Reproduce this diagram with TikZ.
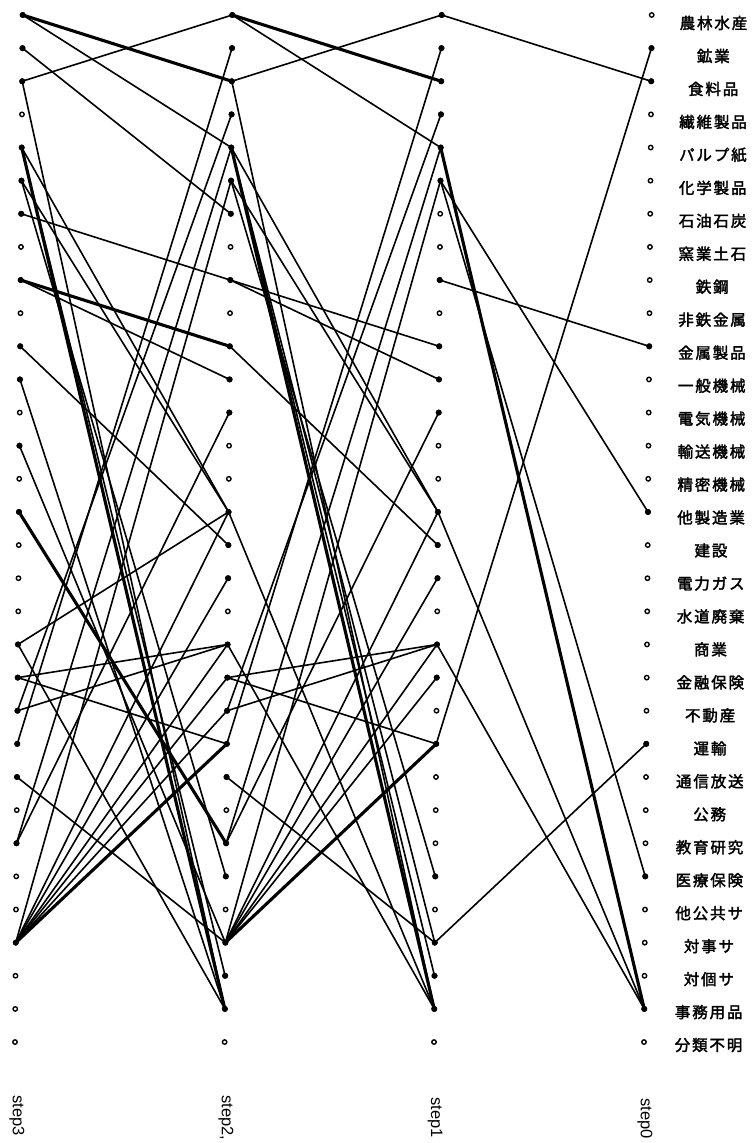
\documentclass[tikz,border=0pt]{standalone}
\usepackage{fontspec}
\newfontfamily\jp{Noto Sans CJK JP}[FakeBold=2.2,LetterSpace=12]
\newfontfamily\lab{Liberation Sans}
\tikzset{
  edge/.style={line width=1.6pt,line cap=round},
  thickedge/.style={line width=3.1pt,line cap=round},
  opendot/.style={draw,line width=1.4pt,fill=white},
  lbl/.style={font=\jp\fontsize{15.5}{16}\selectfont,inner sep=0pt},
  steplbl/.style={font=\lab\fontsize{16.5}{17}\selectfont,inner sep=0pt,anchor=west,rotate=-90}
}
\begin{document}
\begin{tikzpicture}[x=1pt,y=-1pt]
\useasboundingbox (0,0) rectangle (754,1143);
\fill[white] (0,0) rectangle (754,1143);
% row coordinates of the four columns
\foreach \c/\xx in {3/22.7,2/232.3,1/441.7,0/651.7}{
  \foreach \i in {0,...,31}{
    \coordinate (n\c-\i) at ({\xx-0.248*\i},{15+33.13*\i});
  }
}
% step3 -> step2
\foreach \a/\b in {0/4,1/6,2/0,2/30,4/29,4/15,5/15,5/26,6/8,8/11,10/16,11/30,13/28,19/15,19/30,20/19,20/22,21/3,21/19,22/1,23/28,25/4,25/12,28/5,28/15,28/17,28/19,28/20,28/21}
  \draw[edge] (n3-\a) -- (n2-\b);
\foreach \a/\b in {0/2,4/30,8/10,15/25,28/22}
  \draw[thickedge] (n3-\a) -- (n2-\b);
% step2 -> step1
\foreach \a/\b in {0/4,2/0,2/30,4/29,4/28,4/15,5/15,5/26,8/10,8/11,10/16,15/30,19/30,20/19,20/22,21/3,21/19,22/1,23/28,25/4,25/12,28/5,28/15,28/17,28/19,28/20}
  \draw[edge] (n2-\a) -- (n1-\b);
\foreach \a/\b in {0/2,4/30,28/22}
  \draw[thickedge] (n2-\a) -- (n1-\b);
% step1 -> step0
\foreach \a/\b in {0/2,22/1,5/15,5/26,8/10,28/22,15/30,19/30}
  \draw[edge] (n1-\a) -- (n0-\b);
\foreach \a/\b in {4/30}
  \draw[thickedge] (n1-\a) -- (n0-\b);
% dots
\foreach \c in {0,...,3}{
  \foreach \i in {0,...,31}{
    \draw[opendot] (n\c-\i) circle (2.2);
  }
}
\foreach \i in {0,1,2,4,5,6,8,10,11,13,15,19,20,21,22,23,25,28}
  \fill (n3-\i) circle (3);
\foreach \i in {0,1,2,3,4,5,6,8,10,11,12,15,16,17,19,20,21,22,23,25,26,28,29,30}
  \fill (n2-\i) circle (3);
\foreach \i in {0,1,2,3,4,5,8,10,11,12,15,16,17,19,20,22,26,28,29,30}
  \fill (n1-\i) circle (3);
\foreach \i in {1,2,10,15,22,26,30}
  \fill (n0-\i) circle (3);
% labels
\foreach \i/\t in {0/農林水産,1/鉱業,2/食料品,3/繊維製品,4/パルプ紙,5/化学製品,6/石油石炭,7/窯業土石,8/鉄鋼,9/非鉄金属,10/金属製品,11/一般機械,12/電気機械,13/輸送機械,14/精密機械,15/他製造業,16/建設,17/電力ガス,18/水道廃棄,19/商業,20/金融保険,21/不動産,22/運輸,23/通信放送,24/公務,25/教育研究,26/医療保険,27/他公共サ,28/対事サ,29/対個サ,30/事務用品,31/分類不明}
  \node[lbl] (L\i) at ({713.5-0.16*\i},{23+32.97*\i}) {\t};
\node[steplbl] (s3) at (17,1095) {step3};
\node[steplbl] (s2) at (226,1095) {step2,};
\node[steplbl] (s1) at (435,1097) {step1};
\node[steplbl] (s0) at (645,1098) {step0};
\end{tikzpicture}
\end{document}
